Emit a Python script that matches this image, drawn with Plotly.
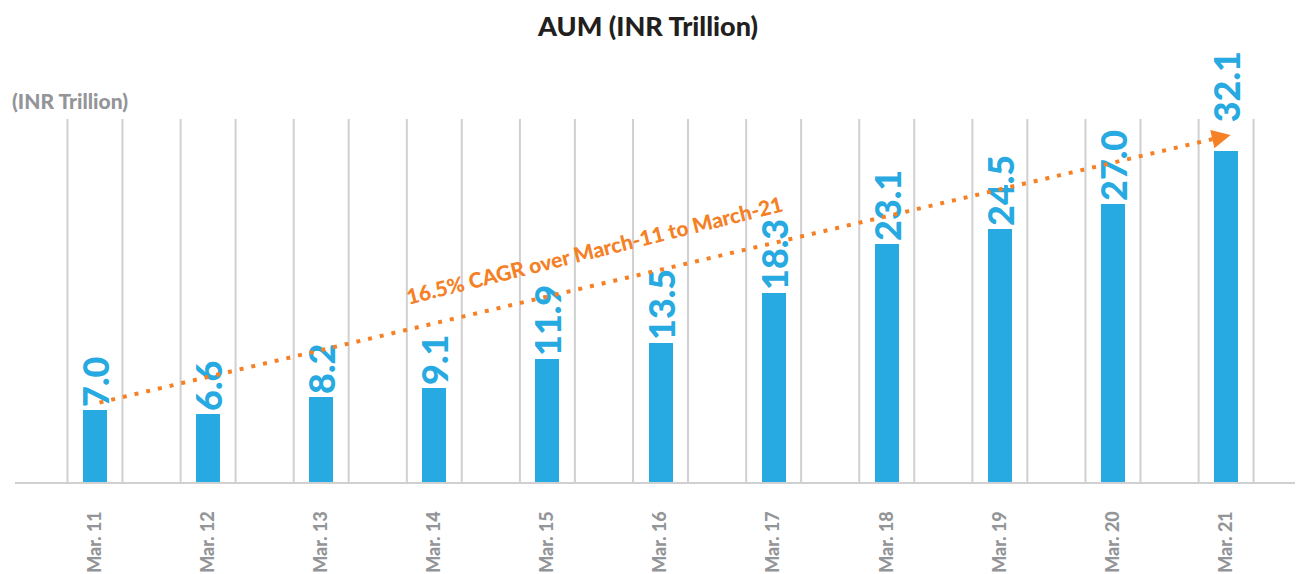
import plotly.graph_objects as go

categories = ["Mar. 11", "Mar. 12", "Mar. 13", "Mar. 14", "Mar. 15", "Mar. 16",
              "Mar. 17", "Mar. 18", "Mar. 19", "Mar. 20", "Mar. 21"]
aum = [7.0, 6.6, 8.2, 9.1, 11.9, 13.5, 18.3, 23.1, 24.5, 27.0, 32.1]
aum_labels = [f"{v:.1f}" for v in aum]
# the last label is lifted above the CAGR arrow head (non-breaking spaces before the text)
aum_labels[-1] = "\u00a0\u00a0\u00a0" + aum_labels[-1]

cagr_text = "16.5% CAGR over March-11 to March-21"
cagr_x = [0.04, 9.88]
cagr_y = [7.7, 33.25]
cagr_tip = (10.04, 33.65)

BLUE = "#27A9E1"
ORANGE = "#F58025"
GREY = "#939598"
GRID = "#D0D0D2"
FONT = "Lato"
W = 900

# the page body adds an 8px offset; the figure is sized to fill the rest of the window
FIG_W, FIG_H = 1295, 566

xs = list(range(len(categories)))

fig = go.Figure()
fig.add_trace(go.Bar(
    x=xs, y=aum, width=0.212, marker=dict(color=BLUE, line=dict(width=0)),
    text=aum_labels, textposition="outside", textangle=-90,
    textfont=dict(family=FONT, size=36, color=BLUE, weight=W),
    constraintext="none", cliponaxis=False, hoverinfo="skip",
))
fig.add_trace(go.Scatter(
    x=cagr_x, y=cagr_y, mode="lines",
    line=dict(color=ORANGE, width=4, dash="4px,8px"),
    hoverinfo="skip", cliponaxis=False,
))

shapes = []
for i in xs:
    for off in (-0.243, 0.243):
        shapes.append(dict(type="line", xref="x", yref="paper", x0=i + off, x1=i + off,
                           y0=0, y1=1, line=dict(color=GRID, width=2), layer="below"))

annotations = [
    dict(x=cagr_tip[0], y=cagr_tip[1], ax=cagr_x[1] + 0.02, ay=cagr_y[1] + 0.05,
         xref="x", yref="y", axref="x", ayref="y", showarrow=True, arrowhead=2,
         arrowsize=1.5, arrowwidth=2.5, arrowcolor=ORANGE, text="", standoff=0),
    dict(x=4.42, y=22.5, xref="x", yref="y", text=cagr_text, showarrow=False,
         textangle=-14, font=dict(family=FONT, size=21, color=ORANGE, weight=W)),
    dict(x=-0.004, y=1.052, xref="paper", yref="paper", text="(INR Trillion)",
         showarrow=False, xanchor="left", yanchor="middle",
         font=dict(family=FONT, size=21, color=GREY, weight=W)),
]

fig.update_layout(
    width=FIG_W, height=FIG_H,
    margin=dict(l=7, r=0, t=111, b=92, autoexpand=False),
    plot_bgcolor="white", paper_bgcolor="white",
    showlegend=False, bargap=0,
    title=dict(text="AUM (INR Trillion)", x=0.4915, xref="paper", y=1 - 19 / FIG_H,
               yref="container", xanchor="center", yanchor="middle",
               font=dict(family=FONT, size=27, color="#231F20", weight=W)),
    xaxis=dict(range=[-0.707, 10.68], tickmode="array", tickvals=xs, ticktext=categories,
               tickangle=-90, tickfont=dict(family=FONT, size=18, color=GREY, weight=W),
               showgrid=False, zeroline=False, showline=True, linecolor=GRID, linewidth=2,
               ticks="outside", ticklen=20, tickcolor="rgba(0,0,0,0)", fixedrange=True,
               automargin=False),
    yaxis=dict(range=[0, 35.2], visible=False, showgrid=False, zeroline=False, fixedrange=True,
               automargin=False),
    shapes=shapes, annotations=annotations,
)

fig.write_html("out.html")
